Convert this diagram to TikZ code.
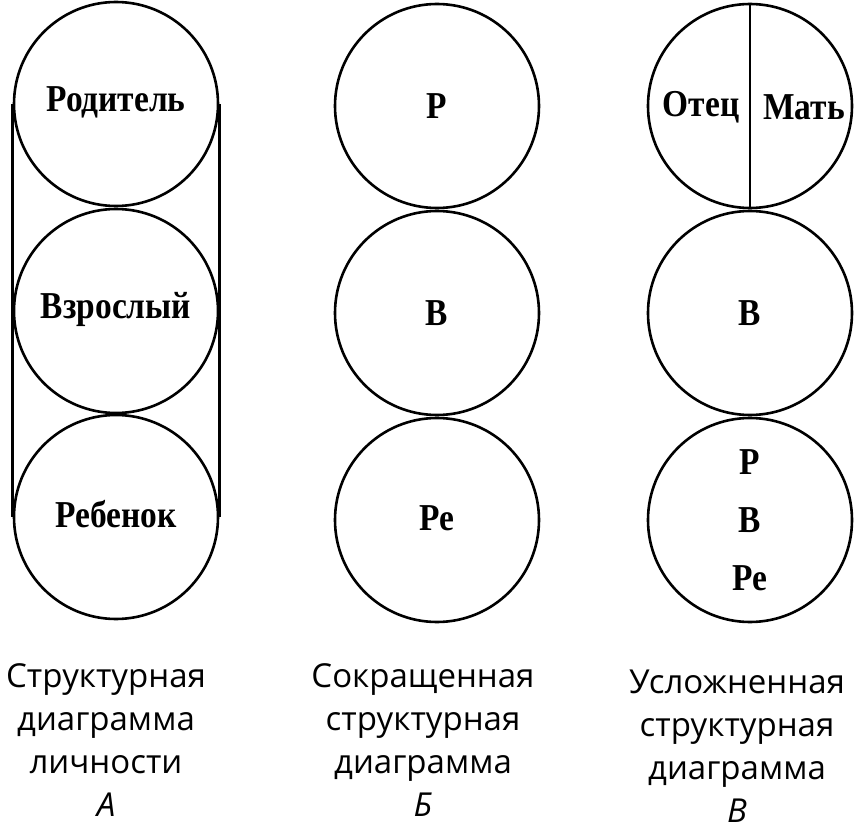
\documentclass[tikz,border=0pt]{standalone}
\usepackage{fontspec}
\setmainfont{Liberation Serif}
\newfontfamily\capfont{Open Sans}
\newfontfamily\lblfont[FakeStretch=0.88]{Liberation Serif Bold}
\begin{document}
\begin{tikzpicture}[x=1pt,y=-1pt,
  ring/.style={draw,line width=2.6pt,circle,minimum size=204pt,inner sep=0pt},
  lbl/.style={font=\lblfont\fontsize{38}{42}\selectfont},
  captxt/.style={font=\capfont\fontsize{33}{43}\selectfont,align=center,anchor=north}]
\useasboundingbox (0,0) rectangle (855,832);
% column A
\node[ring] (a1) at (116,104) {};
\node[ring] (a2) at (116,311) {};
\node[ring] (a3) at (116,517) {};
\draw[line width=2.6pt] (a1.west) -- (a3.west);
\draw[line width=2.6pt] (a1.east) -- (a3.east);
\node[lbl] (ta1) at (116,102) {Родитель};
\node[lbl] (ta2) at (116,309) {Взрослый};
\node[lbl] (ta3) at (116,514) {Ребенок};
% column B
\node[ring] (b1) at (437,106) {};
\node[ring] (b2) at (437,313) {};
\node[ring] (b3) at (437,520) {};
\node[lbl] (tb1) at (437,106) {Р};
\node[lbl] (tb2) at (437,313) {В};
\node[lbl] (tb3) at (437,518) {Ре};
% column C
\node[ring] (c1) at (750,106) {};
\node[ring] (c2) at (750,313) {};
\node[ring] (c3) at (750,520) {};
\draw[line width=2.6pt] (c1.north) -- (c1.south);
\node[lbl] (tc1a) at (701,107) {Отец};
\node[lbl] (tc1b) at (804,107) {Мать};
\node[lbl] (tc2) at (750,313) {В};
\node[lbl,align=center,font=\lblfont\fontsize{38}{58}\selectfont] (tc3) at (750,520) {Р\\В\\Ре};
% captions
\node[captxt] (ca) at (106,660) {Структурная\\диаграмма\\личности\\\itshape А};
\node[captxt] (cb) at (423,660) {Сокращенная\\структурная\\диаграмма\\\itshape Б};
\node[captxt] (cc) at (737,666) {Усложненная\\структурная\\диаграмма\\\itshape В};
\end{tikzpicture}
\end{document}
